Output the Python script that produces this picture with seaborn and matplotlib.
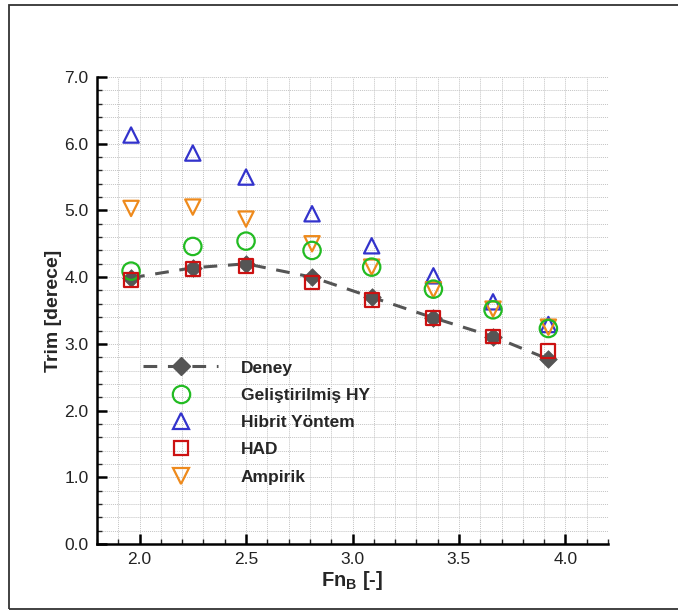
import numpy as np
import pandas as pd
import matplotlib
matplotlib.use("Agg")
import matplotlib.pyplot as plt
import seaborn as sns
from matplotlib.lines import Line2D
from matplotlib.patches import Rectangle
from matplotlib.ticker import MultipleLocator, FormatStrFormatter

fn = [1.96, 2.25, 2.50, 2.81, 3.09, 3.38, 3.66, 3.92]
deney = [3.99, 4.14, 4.20, 4.00, 3.70, 3.39, 3.11, 2.77]
gelistirilmis = [4.09, 4.46, 4.54, 4.40, 4.15, 3.82, 3.51, 3.23]
hibrit = [6.13, 5.86, 5.50, 4.95, 4.47, 4.02, 3.63, 3.29]
had = [3.96, 4.12, 4.17, 3.92, 3.66, 3.39, 3.11, 2.89]
ampirik = [5.03, 5.05, 4.87, 4.50, 4.15, 3.81, 3.52, 3.25]

labels = ["Deney", "Geliştirilmiş HY", "Hibrit Yöntem", "HAD", "Ampirik"]
colors = {"Deney": "#555555", "Geliştirilmiş HY": "#22bb22", "Hibrit Yöntem": "#3333cc",
          "HAD": "#cc1111", "Ampirik": "#ee8a1c"}
markers = {"Deney": "D", "Geliştirilmiş HY": "o", "Hibrit Yöntem": "^", "HAD": "s", "Ampirik": "v"}
sizes = {"Deney": 9, "Geliştirilmiş HY": 12.5, "Hibrit Yöntem": 11, "HAD": 10, "Ampirik": 11}

sns.set_theme(style="white")
plt.rcParams['font.family'] = ['Liberation Sans', 'DejaVu Sans']
plt.rcParams['mathtext.fontset'] = 'custom'
plt.rcParams['mathtext.bf'] = 'Liberation Sans:bold'
plt.rcParams['mathtext.rm'] = 'Liberation Sans'

fig = plt.figure(figsize=(6.78, 6.11), dpi=100)
ax = fig.add_axes([97/678, 1-544/611, (608-97)/678, (544-77)/611])

df = pd.DataFrame({"Fn": fn, "Deney": deney, "Geliştirilmiş HY": gelistirilmis,
                   "Hibrit Yöntem": hibrit, "HAD": had, "Ampirik": ampirik})

sns.lineplot(data=df, x="Fn", y="Deney", ax=ax, color=colors["Deney"], linewidth=2.2,
             linestyle=(0, (4.5, 3.5)), zorder=2)

for name in ["Hibrit Yöntem", "Ampirik", "Geliştirilmiş HY", "HAD"]:
    sns.scatterplot(data=df, x="Fn", y=name, ax=ax, marker=markers[name],
                    s=sizes[name]**2, facecolor="none", edgecolor=colors[name],
                    linewidth=1.6, zorder=3)
sns.scatterplot(data=df, x="Fn", y="Deney", ax=ax, marker="D", s=sizes["Deney"]**2,
                color=colors["Deney"], edgecolor=colors["Deney"], linewidth=0.5, zorder=2.5)

ax.set_xlim(1.8, 4.2)
ax.set_ylim(0.0, 7.0)
ax.xaxis.set_major_locator(MultipleLocator(0.5))
ax.xaxis.set_minor_locator(MultipleLocator(0.1))
ax.yaxis.set_major_locator(MultipleLocator(1.0))
ax.yaxis.set_minor_locator(MultipleLocator(0.2))
ax.xaxis.set_major_formatter(FormatStrFormatter("%.1f"))
ax.yaxis.set_major_formatter(FormatStrFormatter("%.1f"))
ax.grid(True, which="both", color="#c4c4c4", linestyle=(0, (1, 1)), linewidth=0.7)
ax.set_axisbelow(True)
for s in ["top", "right"]:
    ax.spines[s].set_visible(False)
for s in ["left", "bottom"]:
    ax.spines[s].set_linewidth(1.8)
    ax.spines[s].set_color("black")
ax.tick_params(which="major", direction="in", length=7, width=1.8, labelsize=12.5, pad=6,
               colors="black", bottom=True, left=True)
ax.tick_params(which="minor", direction="in", length=3.5, width=1.0, bottom=True, left=True)
ax.tick_params(axis="both", labelcolor="#222222")

ax.set_xlabel(r"Fn$_{\mathbf{B}}$ [-]", fontsize=14.5, fontweight="bold", labelpad=1)
ax.set_ylabel("Trim [derece]", fontsize=14, fontweight="bold", labelpad=2)

handles = [Line2D([], [], color=colors["Deney"], linestyle=(0, (4.5, 3.5)), linewidth=2.2,
                  marker="D", markersize=9, markerfacecolor=colors["Deney"])]
for name in labels[1:]:
    handles.append(Line2D([], [], linestyle="none", marker=markers[name], markersize=sizes[name],
                          markerfacecolor="none", markeredgecolor=colors[name], markeredgewidth=1.6))
ax.legend(handles, labels, loc="upper left", bbox_to_anchor=(0.077, 0.408), frameon=False,
          prop={"weight": "bold", "size": 12.5}, handlelength=4.3, handletextpad=1.3,
          labelspacing=0.7, borderaxespad=0)

fig.patches.append(Rectangle((9/678, 1-609/611), 1.0, 604/611, transform=fig.transFigure,
                             fill=False, edgecolor="#333333", linewidth=1.3))

fig.savefig("out.png", dpi=100)
